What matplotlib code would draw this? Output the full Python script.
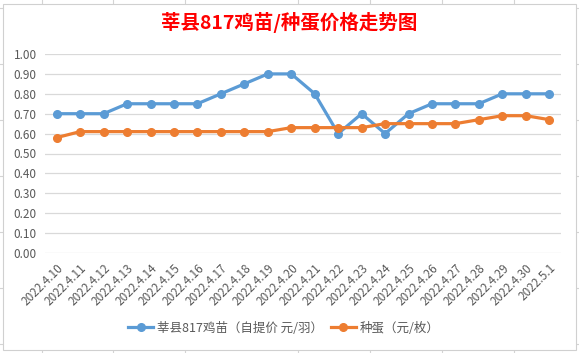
import matplotlib.pyplot as plt
from matplotlib.lines import Line2D
from matplotlib.patches import Rectangle

plt.rcParams['font.family'] = ['Noto Sans CJK SC', 'DejaVu Sans']

dates = ["2022.4.10", "2022.4.11", "2022.4.12", "2022.4.13", "2022.4.14", "2022.4.15",
         "2022.4.16", "2022.4.17", "2022.4.18", "2022.4.19", "2022.4.20", "2022.4.21",
         "2022.4.22", "2022.4.23", "2022.4.24", "2022.4.25", "2022.4.26", "2022.4.27",
         "2022.4.28", "2022.4.29", "2022.4.30", "2022.5.1"]
chick_price = [0.70, 0.70, 0.70, 0.75, 0.75, 0.75, 0.75, 0.80, 0.85, 0.90, 0.90,
               0.80, 0.60, 0.70, 0.60, 0.70, 0.75, 0.75, 0.75, 0.80, 0.80, 0.80]
egg_price = [0.58, 0.61, 0.61, 0.61, 0.61, 0.61, 0.61, 0.61, 0.61, 0.61, 0.63,
             0.63, 0.63, 0.63, 0.65, 0.65, 0.65, 0.65, 0.67, 0.69, 0.69, 0.67]
chick_label = "莘县817鸡苗（自提价 元/羽）"
egg_label = "种蛋（元/枚）"
title = "莘县817鸡苗/种蛋价格走势图"

blue = "#5B9BD5"
orange = "#ED7D31"

fig = plt.figure(figsize=(5.79, 3.53), dpi=100)
W, H = 579, 353

# spreadsheet cell lines behind the chart
for x in [42, 113, 185, 298, 370, 442, 514]:
    fig.add_artist(Line2D([x / W, x / W], [0, 1], color="#D4D4D4", lw=0.8, zorder=0))
for y in [8, 64, 120, 176, 232, 288, 344]:
    fig.add_artist(Line2D([0, 1], [1 - y / H, 1 - y / H], color="#D4D4D4", lw=0.8, zorder=0))
fig.add_artist(Rectangle((3 / W, 3 / H), 573 / W, 346 / H, facecolor="white",
                         edgecolor="#D0D0D0", lw=0.8, zorder=1))

ax = fig.add_axes([45 / W, 1 - 253 / H, 516 / W, 199 / H], zorder=2)
ax.patch.set_alpha(0)
x = range(len(dates))
ax.plot(x, chick_price, color=blue, lw=2.3, marker="o", ms=5.5, label=chick_label)
ax.plot(x, egg_price, color=orange, lw=2.3, marker="o", ms=5.5, label=egg_label)

ax.set_xlim(-0.5, len(dates) - 0.5)
ax.set_ylim(0, 1.0)
ax.set_yticks([i / 10 for i in range(11)])
ax.yaxis.set_major_formatter(plt.FuncFormatter(lambda v, p: f"{v:.2f}"))
ax.grid(axis="y", color="#D9D9D9", lw=0.9)
ax.set_axisbelow(True)
for s in ax.spines.values():
    s.set_visible(False)
ax.tick_params(length=0, labelsize=8.5, colors="#595959", pad=6)
ax.set_xticks(list(x))
ax.set_xticklabels(dates, rotation=45, ha="right", rotation_mode="anchor", fontsize=8.5)

fig.text(0.5, 1 - 22 / H, title, ha="center", va="center", color="#FF0000",
         fontsize=14, fontweight="bold", zorder=3)

fig.legend(handles=ax.get_lines(), loc="center", bbox_to_anchor=(0.49, 1 - 328 / H),
           ncol=2, frameon=False, fontsize=9, labelcolor="#595959",
           handlelength=2.0, columnspacing=0.6, handletextpad=0.3)

fig.savefig("out.png", dpi=100)
